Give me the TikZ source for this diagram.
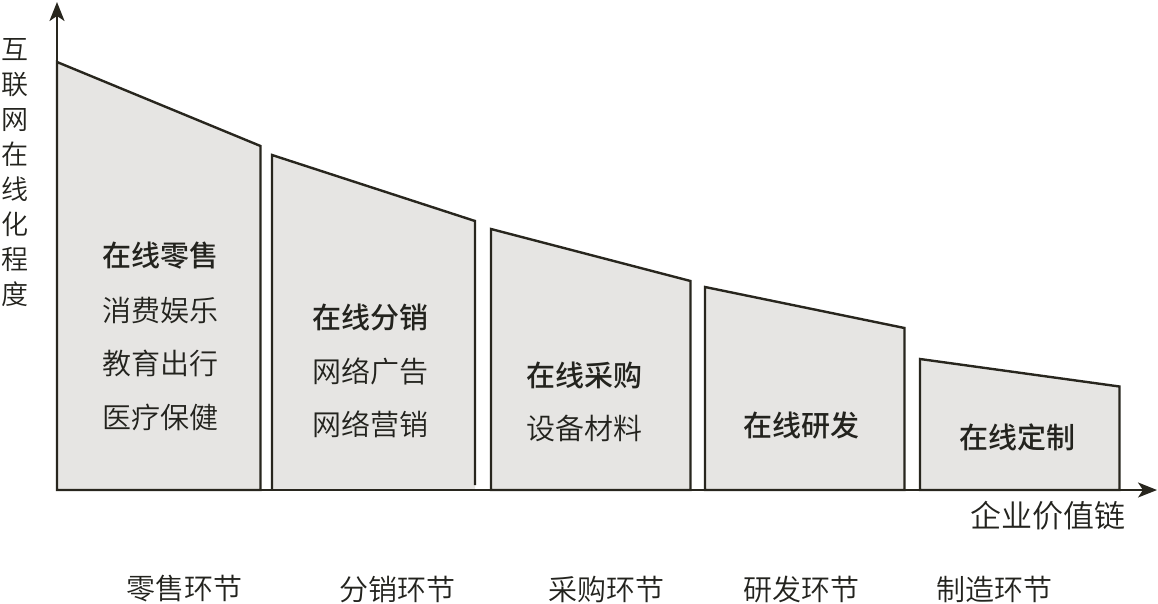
\documentclass[tikz,border=0pt]{standalone}
\usepackage{fontspec}
\newfontfamily\cjkb{Noto Sans CJK SC Medium}
\newfontfamily\cjkl{Noto Sans CJK SC DemiLight}
\usetikzlibrary{arrows.meta}
\definecolor{barfill}{RGB}{230,229,227}
\definecolor{edge}{RGB}{40,38,30}
\definecolor{ink}{RGB}{35,35,30}
\begin{document}
\begin{tikzpicture}[x=1pt,y=-1pt,
  bar/.style={fill=barfill,draw=edge,line width=2.4pt,line join=miter},
  axis/.style={draw=edge,line width=2.4pt,-{Stealth[length=19pt,width=15pt,inset=5pt]}},
  head/.style={font=\cjkb\fontsize{29}{30}\selectfont,text=ink,inner sep=0pt},
  plain/.style={font=\cjkl\fontsize{29}{30}\selectfont,text=ink,inner sep=0pt}]
\useasboundingbox (0,0) rectangle (1158,603);
% bars
\draw[bar] (57,62) -- (260.5,146) -- (260.5,490) -- (57,490) -- cycle;
\fill[barfill] (272,155) -- (475,221) -- (475,490) -- (272,490) -- cycle;
\draw[bar,fill=none] (272,490) -- (272,155) -- (475,221) -- (475,485);
\draw[bar] (491,229) -- (690.5,281) -- (690.5,490) -- (491,490) -- cycle;
\draw[bar] (705,287) -- (904.5,328) -- (904.5,490) -- (705,490) -- cycle;
\draw[bar] (920,359) -- (1119.5,386.5) -- (1119.5,490) -- (920,490) -- cycle;
% axes
\coordinate (O) at (57,490);
\coordinate (ytop) at (57,2);
\coordinate (xend) at (1157,490);
\draw[axis] (O) -- (ytop);
\draw[axis] (O) -- (xend);
% axis labels
\node[font=\cjkl\fontsize{27}{35}\selectfont,text=ink,align=center,inner sep=0pt] (ylab) at (15,173) {互\\联\\网\\在\\线\\化\\程\\度};
\node[font=\cjkl\fontsize{31}{32}\selectfont,text=ink,inner sep=0pt] (xlab) at (1048,516) {企业价值链};
% bar texts
\node[head]  (t11) at (160,256) {在线零售};
\node[plain] (t12) at (160,310) {消费娱乐};
\node[plain] (t13) at (160,363) {教育出行};
\node[plain] (t14) at (160,417) {医疗保健};
\node[head]  (t21) at (370,317) {在线分销};
\node[plain] (t22) at (370,371) {网络广告};
\node[plain] (t23) at (370,424) {网络营销};
\node[head]  (t31) at (584,375) {在线采购};
\node[plain] (t32) at (584,428) {设备材料};
\node[head]  (t41) at (801,425) {在线研发};
\node[head]  (t51) at (1017,437) {在线定制};
% bottom labels
\node[plain] (b1) at (184,589) {零售环节};
\node[plain] (b2) at (397,589) {分销环节};
\node[plain] (b3) at (606,589) {采购环节};
\node[plain] (b4) at (801,589) {研发环节};
\node[plain] (b5) at (994,589) {制造环节};
\end{tikzpicture}
\end{document}
